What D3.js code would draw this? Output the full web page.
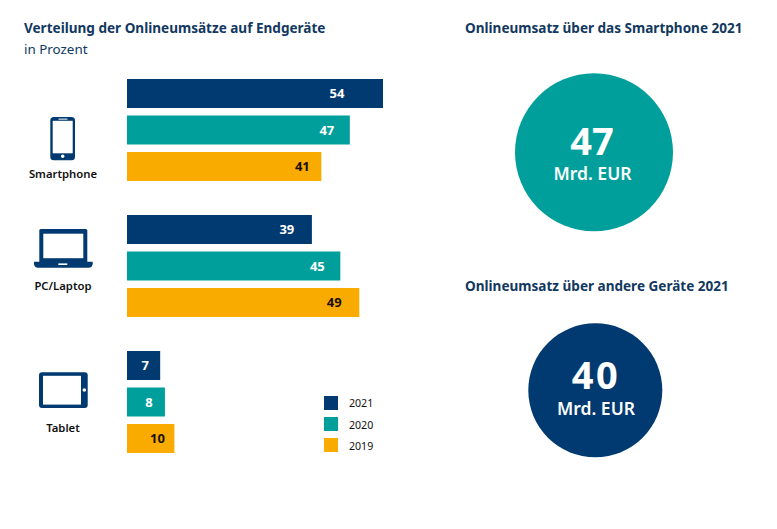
<!DOCTYPE html>
<html><head><meta charset="utf-8">
<script src="https://cdn.jsdelivr.net/npm/d3@7"></script>
<style>html,body{margin:0;padding:0;background:#fff}svg{display:block}text{font-family:"Noto Sans",sans-serif}</style>
</head><body><svg id="c" width="777" height="529"></svg>
<script>
const categories = ["Smartphone","PC/Laptop","Tablet"];
const years = ["2021","2020","2019"];
const values2021 = [54,39,7];
const values2020 = [47,45,8];
const values2019 = [41,49,10];
const series = [values2021,values2020,values2019];
const kpiTitles = ["Onlineumsatz über das Smartphone 2021","Onlineumsatz über andere Geräte 2021"];
const kpiValues = [47,40];
const kpiUnit = "Mrd. EUR";

const NAVY="#003a70",TEAL="#009f9b",AMBER="#f9ab00",TITLE="#12385f";
const colour=d3.scaleOrdinal(years,[NAVY,TEAL,AMBER]);
const labelColour=d3.scaleOrdinal(years,["#fff","#fff","#1a1000"]);
// distance from bar end to label centre, per [series][category]
const labelInset=[[46,25,15],[23,23,16],[19,25,17]];

const svg=d3.select("#c");
const x=d3.scaleLinear().domain([0,54]).range([127,383]);
const yGroup=d3.scaleBand().domain(categories).range([79,453]).paddingInner(0.25);
const yBar=d3.scaleBand().domain(years).range([0,yGroup.bandwidth()]).paddingInner(0.205);

function txt(g,s,xp,yp,size,weight,fill,anchor){
  return g.append("text").attr("x",xp).attr("y",yp).attr("font-size",size).attr("font-weight",weight)
    .attr("fill",fill).attr("text-anchor",anchor||"start").text(s);
}
txt(svg,"Verteilung der Onlineumsätze auf Endgeräte",24,33,13.55,700,TITLE);
txt(svg,"in Prozent",24,54,13.4,400,TITLE);
txt(svg,kpiTitles[0],465,33,13.55,700,TITLE);
txt(svg,kpiTitles[1],465,291,13.55,700,TITLE);

const groups=svg.selectAll("g.cat").data(categories).join("g").attr("class","cat")
  .attr("transform",c=>`translate(0,${yGroup(c)})`);
groups.each(function(c,ci){
  const g=d3.select(this);
  years.forEach((yr,si)=>{
    const v=series[si][ci];
    g.append("rect").attr("x",x(0)).attr("y",yBar(yr)).attr("width",x(v)-x(0)).attr("height",yBar.bandwidth()).attr("fill",colour(yr));
    txt(g,v,x(v)-labelInset[si][ci],yBar(yr)+yBar.bandwidth()/2+4.5,13,700,labelColour(yr),"middle");
  });
});

// category labels
const labelY=[178,290,432];
categories.forEach((c,i)=>txt(svg,c,63,labelY[i],11.3,600,"#111","middle"));

// icons
const ic=svg.append("g");
// phone
ic.append("rect").attr("x",50.3).attr("y",117).attr("width",24.7).attr("height",43.3).attr("rx",3.5).attr("fill",NAVY);
ic.append("rect").attr("x",52.7).attr("y",120.8).attr("width",20).attr("height",32.5).attr("fill","#fff");
ic.append("rect").attr("x",58.5).attr("y",118.6).attr("width",9).attr("height",1).attr("fill","#fff");
ic.append("circle").attr("cx",62.7).attr("cy",156.2).attr("r",1.7).attr("fill","#fff");
// laptop
ic.append("rect").attr("x",39.3).attr("y",229).attr("width",48).attr("height",34).attr("rx",1.5).attr("fill",NAVY);
ic.append("rect").attr("x",43.3).attr("y",233.7).attr("width",40).attr("height",24.5).attr("fill","#fff");
ic.append("path").attr("d","M34 261.7H92.7V263.5Q92.7 267.7 88 267.7H38.5Q34 267.7 34 263.5Z").attr("fill",NAVY);
ic.append("rect").attr("x",58.3).attr("y",263.4).attr("width",9).attr("height",1.6).attr("fill","#fff");
// tablet
ic.append("rect").attr("x",39).attr("y",372.3).attr("width",48.7).attr("height",35.7).attr("rx",3).attr("fill",NAVY);
ic.append("rect").attr("x",43).attr("y",375.8).attr("width",38).attr("height",28.8).attr("fill","#fff");
ic.append("circle").attr("cx",84.3).attr("cy",390).attr("r",1.8).attr("fill","#fff");

// legend
const legY=[396,417,438];
const legTextY=[407,429,450];
years.forEach((yr,i)=>{
  svg.append("rect").attr("x",324).attr("y",legY[i]).attr("width",14).attr("height",14).attr("fill",colour(yr));
  txt(svg,yr,349,legTextY[i],10.6,400,"#111");
});

// KPI circles
const kpiPos=[
  {cx:594,cy:152.3,r:79,c:TEAL,vx:592,vy:155,vs:38,ls:0,ux:592.5,uy:180},
  {cx:595.3,cy:390.3,r:67,c:NAVY,vx:596,vy:389.3,vs:38,ls:2.5,ux:596,uy:415}];
kpiPos.forEach((p,i)=>{
  svg.append("circle").attr("cx",p.cx).attr("cy",p.cy).attr("r",p.r).attr("fill",p.c);
  txt(svg,kpiValues[i],p.vx,p.vy,p.vs,700,"#fff","middle").attr("letter-spacing",p.ls);
  txt(svg,kpiUnit,p.ux,p.uy,17.5,600,"#fff","middle");
});
</script></body></html>
